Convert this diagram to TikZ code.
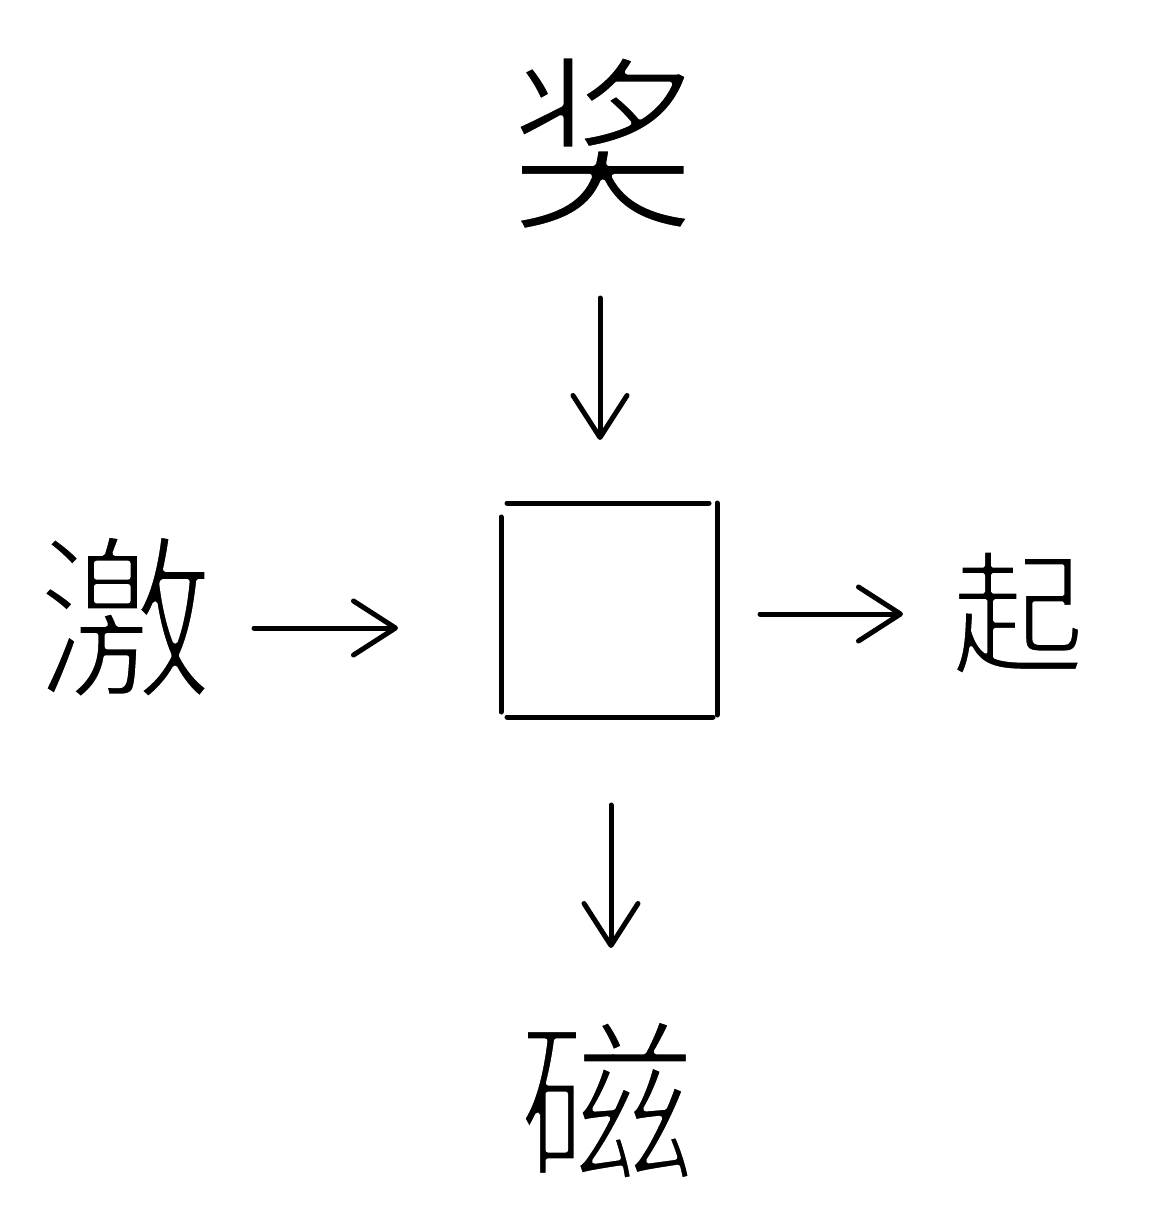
\documentclass[tikz,border=0pt]{standalone}
\usepackage{fontspec}
\newfontfamily\cjk{Noto Sans CJK SC}
\usetikzlibrary{arrows.meta}
% thin the glyphs: fill, then stroke the outline in white (#1 = stroke width)
\newcommand{\thinglyph}[2]{\special{pdf:literal q 2 Tr 1 1 1 RG #1 w 1 j}#2\special{pdf:literal Q}}
\tikzset{
  charnode/.style={inner sep=0pt, outer sep=0pt, font=\cjk},
  conn/.style={line width=5pt, line cap=round, -{Straight Barb[length=42pt,width=54pt,line cap=round,line join=round]}},
  sqline/.style={line width=5pt, line cap=round}
}
\begin{document}
\begin{tikzpicture}[x=1pt,y=-1pt]
\useasboundingbox (0,0) rectangle (1155,1225);
% characters
\node[charnode, font=\cjk\fontsize{190}{190}\selectfont] (jiang) at (603,143) {\thinglyph{5}{奖}};
\node[charnode, font=\cjk\fontsize{178}{178}\selectfont] (ji) at (125,617) {\thinglyph{5}{激}};
\node[charnode, font=\cjk\fontsize{134}{134}\selectfont] (qi) at (1018,613) {\thinglyph{3.5}{起}};
\node[charnode, font=\cjk\fontsize{178}{178}\selectfont] (ci) at (607,1100) {\thinglyph{5}{磁}};
% empty square
\node[inner sep=0pt, minimum width=216pt, minimum height=214pt] (sq) at (609,610) {};
\draw[sqline] (507,503) -- (709,503);
\draw[sqline] (717,503) -- (717,715);
\draw[sqline] (501,517) -- (501,712);
\draw[sqline] (507,717) -- (713,717);
% arrow end points
\coordinate (a1) at (600,298); \coordinate (b1) at (600,440);
\coordinate (a2) at (254,628); \coordinate (b2) at (398,628);
\coordinate (a3) at (760,614); \coordinate (b3) at (903,614);
\coordinate (a4) at (611,805); \coordinate (b4) at (611,948);
\draw[conn] (a1) -- (b1);
\draw[conn] (a2) -- (b2);
\draw[conn] (a3) -- (b3);
\draw[conn] (a4) -- (b4);
\end{tikzpicture}
\end{document}
